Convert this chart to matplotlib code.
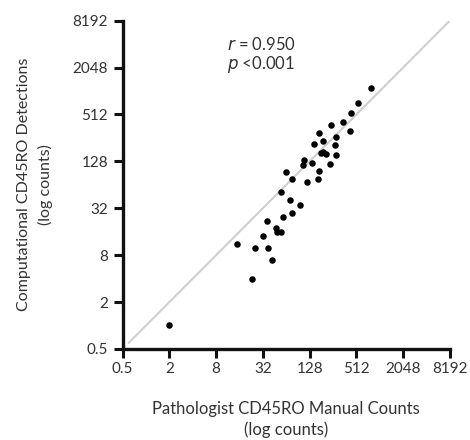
import matplotlib
matplotlib.use("Agg")
import matplotlib.pyplot as plt
from matplotlib.ticker import FixedLocator, FixedFormatter

plt.rcParams['font.family'] = ['Lato', 'DejaVu Sans']

# Data (counts)
pathologist = [2, 23, 15, 25, 37, 42, 32, 36, 47, 48, 54, 58, 75, 54, 72, 96, 64, 75,
               119, 108, 105, 139, 164, 169, 237, 145, 190, 169, 190, 211, 181, 284,
               269, 284, 244, 345, 428, 434, 537, 798]
computational = [1, 4, 11, 10, 10, 7, 14, 22, 18, 16, 16, 25, 28, 51, 41, 35, 94, 76,
                 70, 133, 115, 121, 76, 97, 118, 214, 236, 294, 170, 158, 163, 154,
                 208, 265, 375, 407, 317, 530, 714, 1113]
ticks = [0.5, 2, 8, 32, 128, 512, 2048, 8192]
tick_labels = ["0.5", "2", "8", "32", "128", "512", "2048", "8192"]
identity = [0.6, 8192]
r_text = "$r$ = 0.950"
p_text = "$p$ <0.001"

fig = plt.figure(figsize=(4.7, 4.4), dpi=100)
ax = fig.add_axes([0.261, 0.207, 0.696, 0.746])

ax.plot(identity, identity, color="#cfcfcf", lw=1.5, zorder=1)
ax.scatter(pathologist, computational, s=22, color="black", zorder=3, linewidths=0)

ax.set_xscale("log", base=2)
ax.set_yscale("log", base=2)
ax.set_xlim(0.5, 8192)
ax.set_ylim(0.5, 8192)
for a in (ax.xaxis, ax.yaxis):
    a.set_major_locator(FixedLocator(ticks))
    a.set_major_formatter(FixedFormatter(tick_labels))
    a.set_minor_locator(FixedLocator([]))

for s in ("top", "right"):
    ax.spines[s].set_visible(False)
for s in ("left", "bottom"):
    ax.spines[s].set_linewidth(2.4)
    ax.spines[s].set_color("#111111")
ax.tick_params(axis="both", which="major", length=6.5, width=2.2, color="#111111",
               direction="out", labelsize=11, labelcolor="#333333")
ax.tick_params(axis="x", pad=3)
ax.tick_params(axis="y", pad=4)

ax.set_xlabel("Pathologist CD45RO Manual Counts\n(log counts)", fontsize=12,
              color="#333333", labelpad=18, linespacing=1.35)
ax.set_ylabel("Computational CD45RO Detections\n(log counts)", fontsize=11.5,
              color="#333333", labelpad=14, linespacing=1.55)

ax.text(0.319, 0.926, r_text, transform=ax.transAxes, fontsize=12, color="#333333",
        ha="left", va="center")
ax.text(0.319, 0.865, p_text, transform=ax.transAxes, fontsize=12, color="#333333",
        ha="left", va="center")

fig.savefig("out.png", dpi=100)
